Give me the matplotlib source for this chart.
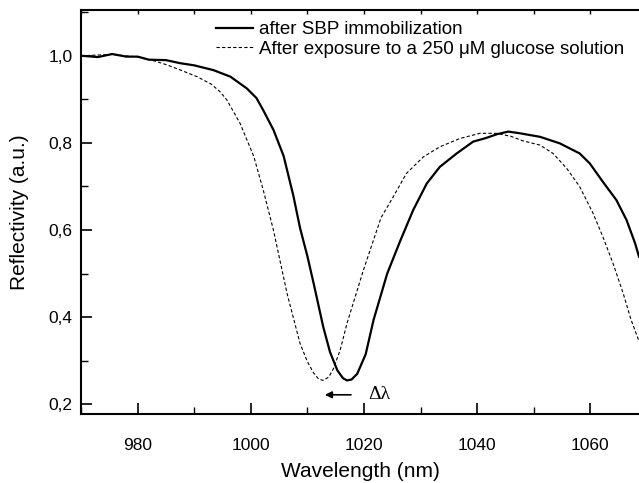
import matplotlib
matplotlib.use("Agg")
import matplotlib.pyplot as plt
from matplotlib.ticker import MultipleLocator, FuncFormatter

plt.rcParams['font.family'] = ['Liberation Sans', 'DejaVu Sans']

# Solid curve: after SBP immobilization
wl_sbp = [970, 973, 975.5, 978, 980, 982, 985, 987.5, 990, 993.4, 996.4, 999.3,
          1001.0, 1002.2, 1004.0, 1005.8, 1007.5, 1008.7, 1010.0, 1011.1, 1012.8,
          1014.0, 1015.3, 1016.3, 1017.0, 1017.8, 1018.8, 1020.3, 1021.7, 1024.1,
          1026.4, 1028.7, 1031.1, 1033.4, 1036.4, 1039.3, 1041.5, 1043.5, 1045.5,
          1047.6, 1051.1, 1054.6, 1058.1, 1059.9, 1062.2, 1064.6, 1066.4,
          1067.9, 1068.6]
r_sbp = [1.000, 0.997, 1.004, 0.998, 0.998, 0.991, 0.990, 0.983, 0.978, 0.967,
         0.952, 0.925, 0.903, 0.875, 0.830, 0.770, 0.680, 0.605, 0.540, 0.478,
         0.378, 0.320, 0.278, 0.260, 0.255, 0.257, 0.270, 0.315, 0.394, 0.500,
         0.575, 0.646, 0.707, 0.745, 0.776, 0.803, 0.811, 0.820, 0.826, 0.822,
         0.814, 0.799, 0.776, 0.753, 0.711, 0.669, 0.623, 0.570, 0.539]

# Dashed curve: after exposure to 250 uM glucose
wl_glu = [970, 975.5, 980, 983, 985.2, 988, 990.5, 993, 994.6, 995.8, 998.1,
          1000.5, 1002.2, 1004.0, 1006.4, 1008.7, 1010.0, 1011.1, 1012.0, 1012.8,
          1013.8, 1014.6, 1015.8, 1017.0, 1019.9, 1023.0, 1025.2, 1027.5, 1030.5,
          1033.4, 1036.9, 1040.5, 1043.4, 1046.0, 1048.0, 1051.1, 1053.4, 1055.8,
          1058.1, 1060.5, 1062.2, 1064.0, 1065.8, 1067.2, 1068.6]
r_glu = [1.000, 1.003, 0.997, 0.988, 0.979, 0.965, 0.952, 0.935, 0.917, 0.898,
         0.845, 0.770, 0.692, 0.600, 0.455, 0.340, 0.298, 0.272, 0.258, 0.255,
         0.263, 0.282, 0.325, 0.386, 0.508, 0.628, 0.677, 0.730, 0.768, 0.791,
         0.810, 0.822, 0.822, 0.815, 0.805, 0.795, 0.776, 0.742, 0.700, 0.638,
         0.585, 0.524, 0.455, 0.394, 0.345]

labels = ["after SBP immobilization", "After exposure to a 250 \u03bcM glucose solution"]

fig = plt.figure(figsize=(6.39, 4.83), dpi=100)
ax = fig.add_axes([0.1268, 0.1429, 0.8732, 0.9793 - 0.1429])

ax.plot(wl_sbp, r_sbp, color='black', lw=1.6, label=labels[0])
ax.plot(wl_glu, r_glu, color='black', lw=0.8, ls=(0, (3, 2)), label=labels[1])

ax.set_xlim(970, 1068.6)
ax.set_ylim(0.178, 1.105)

ax.xaxis.set_major_locator(MultipleLocator(20))
ax.xaxis.set_minor_locator(MultipleLocator(10))
ax.yaxis.set_major_locator(MultipleLocator(0.2))
ax.yaxis.set_minor_locator(MultipleLocator(0.1))
ax.yaxis.set_major_formatter(FuncFormatter(lambda v, p: f"{v:.1f}".replace('.', ',')))

ax.tick_params(which='major', direction='in', length=8, width=1.2, labelsize=12.5)
ax.tick_params(axis='x', which='major', pad=17)
ax.tick_params(axis='y', which='major', pad=6)
ax.tick_params(which='minor', direction='in', length=5, width=1.0)
ax.spines['right'].set_visible(False)
for s in ['left', 'bottom', 'top']:
    ax.spines[s].set_linewidth(1.5)

sec = ax.secondary_xaxis('top')
sec.xaxis.set_major_locator(MultipleLocator(10))
sec.tick_params(direction='in', length=3, width=1.0, labeltop=False)
sec.spines['top'].set_visible(False)

ax.set_xlabel("Wavelength (nm)", fontsize=15, labelpad=7)
ax.set_ylabel("Reflectivity (a.u.)", fontsize=15, labelpad=14)

leg = ax.legend(loc='upper left', bbox_to_anchor=(0.218, 1.005), frameon=False,
                fontsize=13.5, handlelength=2.0, handletextpad=0.3, labelspacing=0.12,
                borderpad=0.2)

ax.annotate("", xy=(1012.6, 0.222), xytext=(1018.2, 0.222),
            arrowprops=dict(arrowstyle='-|>', color='black', lw=1.2,
                            mutation_scale=10))
ax.text(1020.8, 0.222, "\u0394\u03bb", fontsize=14, family=['Liberation Serif', 'DejaVu Serif'],
        va='center', ha='left')

fig.savefig("out.png", dpi=100)
